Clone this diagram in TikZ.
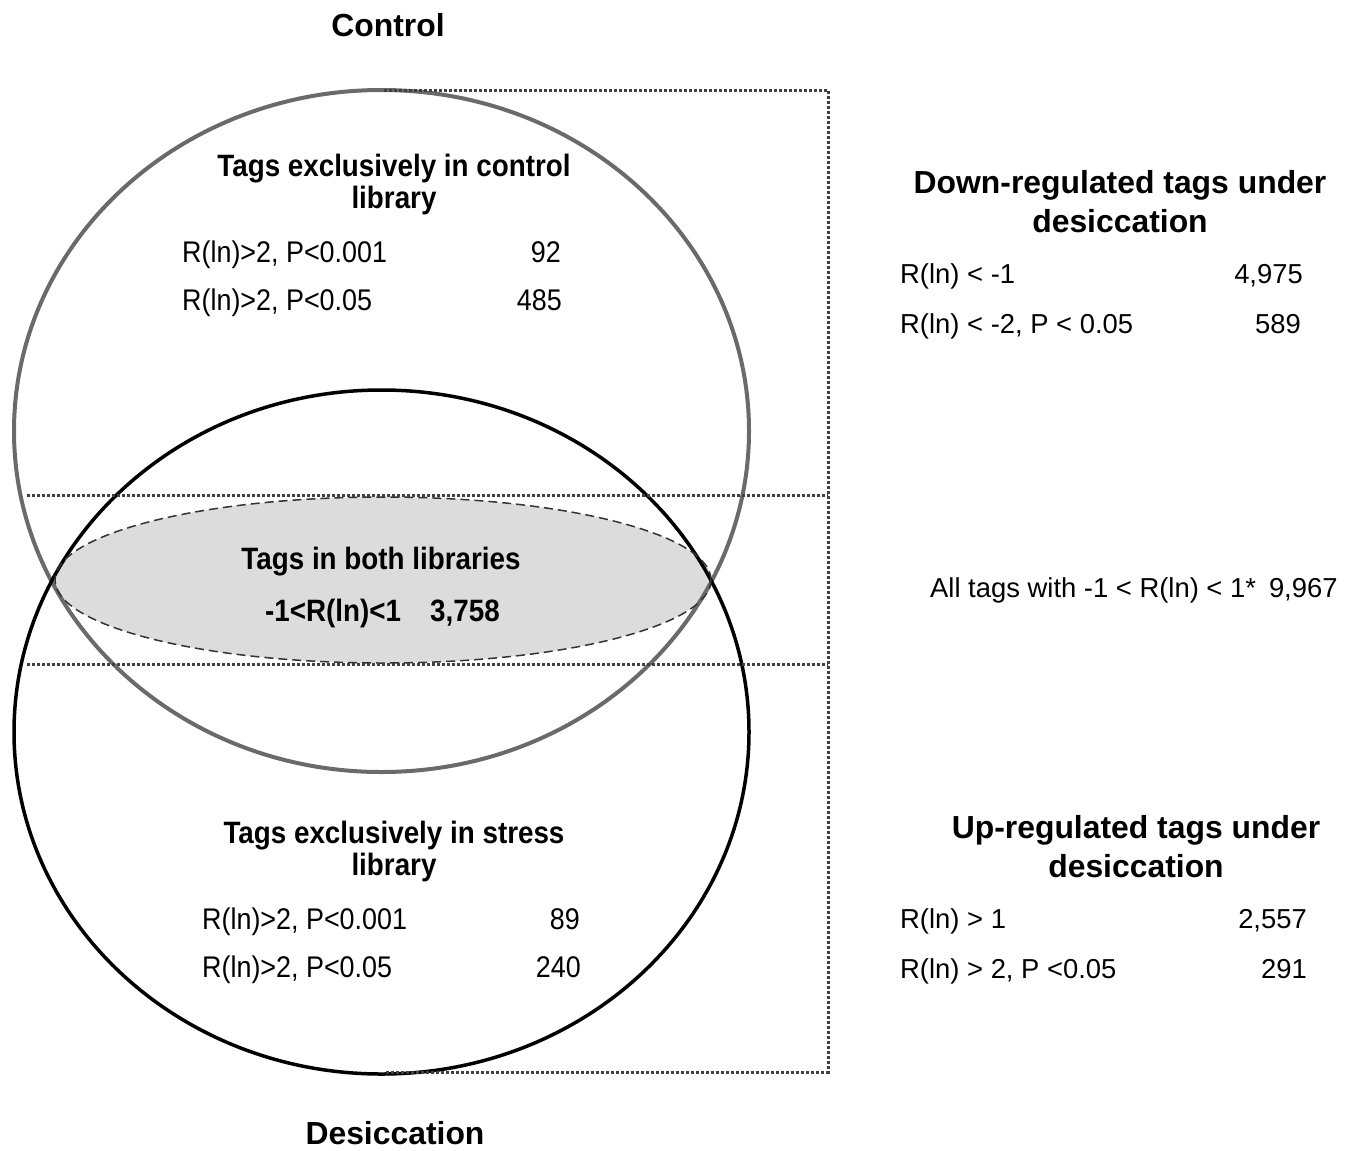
\documentclass[tikz,border=0pt]{standalone}
\usepackage{fontspec}
\setmainfont{Liberation Sans}
\newfontfamily\narrowfont[FakeStretch=0.9]{Liberation Sans}
\definecolor{ctrlgray}{HTML}{6A6A6A}
\definecolor{bothfill}{HTML}{DCDCDC}
\begin{document}
\begin{tikzpicture}[x=1bp,y=-1bp,
  head/.style={font=\fontsize{32}{39}\selectfont\bfseries, inner sep=0pt, align=center},
  ihead/.style={font=\narrowfont\fontsize{31}{33}\selectfont\bfseries, inner sep=0pt, align=center},
  itxt/.style={font=\narrowfont\fontsize{30}{32}\selectfont, inner sep=0pt},
  rtxt/.style={font=\fontsize{27.5}{30}\selectfont, inner sep=0pt},
  dotline/.style={line width=3bp, dash pattern=on 3bp off 2bp, color=black!75}]
\useasboundingbox (0,0) rectangle (1349,1150);
% intersection ellipse fill
\fill[bothfill] (383,580) ellipse [x radius=328, y radius=83];
% circles
\draw[ctrlgray, line width=4bp] (381.5,431) ellipse [x radius=367.5, y radius=341];
\draw[black, line width=3.5bp] (381.5,732) ellipse [x radius=367.5, y radius=342];
% dashed outline of intersection
\draw[black!80, line width=1.5bp, dash pattern=on 9bp off 5bp] (383,580) ellipse [x radius=328, y radius=83];
% dotted frame
\coordinate (t1) at (384,90);
\coordinate (t2) at (828,90);
\coordinate (m1a) at (27,495);
\coordinate (m1b) at (828,495);
\coordinate (m2a) at (27,664);
\coordinate (m2b) at (828,664);
\coordinate (b1) at (384,1072);
\coordinate (b2) at (828,1072);
\draw[dotline] (t1) -- (t2) -- (b2) -- (b1);
\draw[dotline] (m1a) -- (m1b);
\draw[dotline] (m2a) -- (m2b);
% titles
\node[head] (control) at (388,25) {Control};
\node[head] (desic) at (395,1133) {Desiccation};
% control exclusive
\node[ihead] (ctrlhead) at (394,184.5) {Tags exclusively in control\\library};
\node[itxt, anchor=base west] (c1) at (182,262) {R(ln)>2, P<0.001};
\node[itxt, anchor=base east] (c1n) at (561,262) {92};
\node[itxt, anchor=base west] (c2) at (182,310) {R(ln)>2, P<0.05};
\node[itxt, anchor=base east] (c2n) at (562,310) {485};
% both
\node[ihead] (bothhead) at (381,562) {Tags in both libraries};
\node[ihead, anchor=base west] (both1) at (265,621) {-1<R(ln)<1};
\node[ihead, anchor=base west] (both1n) at (430,621) {3,758};
% stress exclusive
\node[ihead] (strhead) at (394,851.5) {Tags exclusively in stress\\library};
\node[itxt, anchor=base west] (s1) at (202,929) {R(ln)>2, P<0.001};
\node[itxt, anchor=base east] (s1n) at (580,929) {89};
\node[itxt, anchor=base west] (s2) at (202,977) {R(ln)>2, P<0.05};
\node[itxt, anchor=base east] (s2n) at (581,977) {240};
% right side: down
\node[head] (downhead) at (1120,201.5) {Down-regulated tags under\\desiccation};
\node[rtxt, anchor=base west] (d1) at (900,283) {R(ln) < -1};
\node[rtxt, anchor=base east] (d1n) at (1303,283) {4,975};
\node[rtxt, anchor=base west] (d2) at (900,333) {R(ln) < -2, P < 0.05};
\node[rtxt, anchor=base east] (d2n) at (1301,333) {589};
% all tags
\node[rtxt, anchor=base west] (all) at (930,597) {All tags with -1 < R(ln) < 1*\hspace{13bp}9,967};
% up
\node[head] (uphead) at (1136,847) {Up-regulated tags under\\desiccation};
\node[rtxt, anchor=base west] (u1) at (900,928) {R(ln) > 1};
\node[rtxt, anchor=base east] (u1n) at (1307,928) {2,557};
\node[rtxt, anchor=base west] (u2) at (900,978) {R(ln) > 2, P <0.05};
\node[rtxt, anchor=base east] (u2n) at (1307,978) {291};
\end{tikzpicture}
\end{document}
